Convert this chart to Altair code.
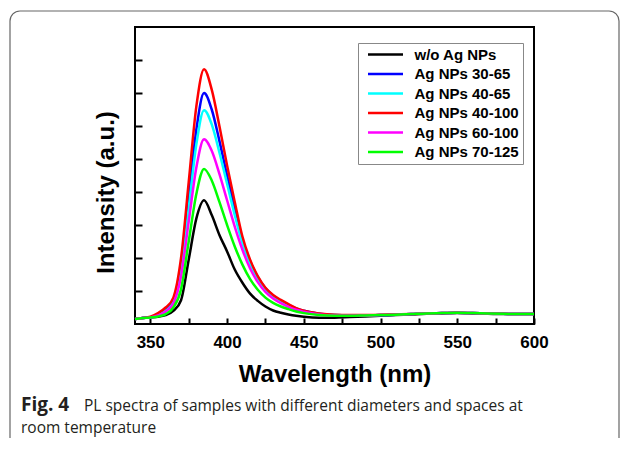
import altair as alt
import pandas as pd

# ---- data ----
wavelength = [340, 345, 350, 355, 360, 365, 370, 375, 380, 385, 390, 395, 400, 405,
              410, 415, 420, 425, 430, 435, 440, 445, 450, 460, 470, 480, 490, 500,
              510, 520, 530, 540, 550, 560, 570, 580, 590, 600]

series_names = ["w/o Ag NPs", "Ag NPs 30-65", "Ag NPs 40-65",
                "Ag NPs 40-100", "Ag NPs 60-100", "Ag NPs 70-125"]
series_colors = ["#000000", "#0000ff", "#00ffff", "#ff0000", "#ff00ff", "#00ff00"]

wo_ag = [0.15, 0.18, 0.20, 0.22, 0.27, 0.40, 0.72, 1.95, 3.20, 3.75, 3.30, 2.70, 2.20, 1.65,
         1.25, 0.92, 0.70, 0.53, 0.41, 0.34, 0.29, 0.25, 0.22, 0.19, 0.19, 0.21, 0.23, 0.25,
         0.27, 0.29, 0.31, 0.32, 0.33, 0.32, 0.31, 0.30, 0.30, 0.30]
ag_30_65 = [0.15, 0.18, 0.20, 0.28, 0.42, 0.70, 1.70, 3.80, 5.90, 7.00, 6.50, 5.55, 4.50, 3.50,
            2.55, 1.90, 1.42, 1.08, 0.86, 0.70, 0.58, 0.47, 0.40, 0.31, 0.27, 0.26, 0.26, 0.27,
            0.28, 0.30, 0.32, 0.33, 0.34, 0.33, 0.32, 0.31, 0.30, 0.30]
ag_40_65 = [0.15, 0.18, 0.20, 0.27, 0.40, 0.66, 1.60, 3.50, 5.45, 6.48, 6.05, 5.20, 4.25, 3.30,
            2.45, 1.82, 1.36, 1.04, 0.82, 0.67, 0.55, 0.45, 0.38, 0.30, 0.27, 0.26, 0.26, 0.27,
            0.28, 0.30, 0.32, 0.33, 0.34, 0.33, 0.32, 0.31, 0.30, 0.30]
ag_40_100 = [0.15, 0.18, 0.22, 0.33, 0.50, 0.80, 2.00, 4.30, 6.60, 7.72, 7.10, 6.00, 4.80, 3.70,
             2.65, 1.95, 1.45, 1.10, 0.88, 0.73, 0.60, 0.48, 0.40, 0.32, 0.28, 0.27, 0.27, 0.28,
             0.29, 0.30, 0.32, 0.33, 0.34, 0.33, 0.32, 0.31, 0.30, 0.30]
ag_60_100 = [0.15, 0.18, 0.20, 0.26, 0.38, 0.62, 1.45, 3.10, 4.75, 5.60, 5.25, 4.55, 3.75, 2.95,
             2.25, 1.68, 1.27, 0.97, 0.77, 0.63, 0.52, 0.43, 0.37, 0.29, 0.26, 0.26, 0.26, 0.27,
             0.28, 0.30, 0.32, 0.33, 0.34, 0.33, 0.32, 0.31, 0.30, 0.30]
ag_70_125 = [0.15, 0.18, 0.20, 0.23, 0.30, 0.50, 1.05, 2.50, 3.95, 4.70, 4.35, 3.70, 3.00, 2.35,
             1.80, 1.36, 1.04, 0.80, 0.64, 0.53, 0.45, 0.38, 0.33, 0.27, 0.25, 0.25, 0.26, 0.27,
             0.28, 0.30, 0.32, 0.33, 0.34, 0.33, 0.32, 0.31, 0.30, 0.30]

x_label_values = [350, 400, 450, 500, 550, 600]
x_tick_values = [350, 375, 400, 425, 450, 475, 500, 525, 550, 575, 600]
y_tick_values = [1, 2, 3, 4, 5, 6, 7, 8]

caption_bold = "Fig. 4"
caption_line1 = "PL spectra of samples with different diameters and spaces at"
caption_line2 = "room temperature"

# ---- build table ----
rows = []
for name, vals in zip(series_names, [wo_ag, ag_30_65, ag_40_65, ag_40_100, ag_60_100, ag_70_125]):
    for w, v in zip(wavelength, vals):
        rows.append({"wavelength": w, "intensity": v, "sample": name})
df = pd.DataFrame(rows)
one = pd.DataFrame({"k": [0]})

W, H = 399, 297
FONT = "Liberation Sans"

x_scale = alt.Scale(domain=[340, 600], nice=False, zero=False)
y_scale = alt.Scale(domain=[0, 9], nice=False)

frame = alt.Chart(one).mark_rect(
    filled=False, stroke="#666666", strokeWidth=1.2, cornerRadius=10
).encode(x=alt.value(-125), x2=alt.value(484), y=alt.value(-16), y2=alt.value(440))

lines = alt.Chart(df).mark_line(strokeWidth=2.5, interpolate="monotone").encode(
    x=alt.X("wavelength:Q", scale=x_scale,
            axis=alt.Axis(title="Wavelength (nm)", values=x_label_values, ticks=False,
                          domain=False, grid=False, labelFontSize=17, labelFontWeight="bold",
                          labelFont=FONT, labelColor="black", labelPadding=10, labelFlush=False,
                          format="d", titleFont=FONT, titleFontSize=24, titleFontWeight="bold",
                          titleColor="black", titleBaseline="alphabetic", titleY=57)),
    y=alt.Y("intensity:Q", scale=y_scale,
            axis=alt.Axis(title="Intensity (a.u.)", labels=False, ticks=False, domain=False,
                          grid=False, titleFont=FONT, titleFontSize=24, titleFontWeight="bold",
                          titleColor="black", titleAngle=270, titleBaseline="alphabetic",
                          titleAlign="center", titleX=-22, titleY=165)),
    color=alt.Color("sample:N", sort=series_names,
                    scale=alt.Scale(domain=series_names, range=series_colors),
                    legend=alt.Legend(title=None, orient="none", legendX=223, legendY=16,
                                      symbolType="M-1,0H6", symbolSize=100,
                                      symbolStrokeWidth=2.5, symbolOffset=3.5,
                                      labelOffset=34, labelFont=FONT, labelFontSize=15,
                                      labelFontWeight="bold", labelColor="black",
                                      rowPadding=3.5, padding=4, strokeColor="#888888",
                                      fillColor="white")),
)

ticks = alt.Chart(df).mark_point(opacity=0).encode(
    x=alt.X("wavelength:Q", scale=x_scale,
            axis=alt.Axis(orient="top", offset=-H, values=x_tick_values, labels=False,
                          title=None, domain=False, grid=False, tickSize=6, tickWidth=2,
                          tickColor="black")),
    y=alt.Y("intensity:Q", scale=y_scale,
            axis=alt.Axis(orient="right", offset=-W, values=y_tick_values, labels=False,
                          title=None, domain=False, grid=False, tickSize=7, tickWidth=2,
                          tickColor="black")),
)

cap_font = "Open Sans"
cap0 = alt.Chart(one).mark_text(text=caption_bold, font=cap_font, fontSize=19,
                                fontWeight="bold", align="left", baseline="alphabetic",
                                color="#231f20").encode(x=alt.value(-114), y=alt.value(384))
cap1 = alt.Chart(one).mark_text(text=caption_line1, font=cap_font, fontSize=15.5,
                                align="left", baseline="alphabetic",
                                color="#231f20").encode(x=alt.value(-51), y=alt.value(384))
cap2 = alt.Chart(one).mark_text(text=caption_line2, font=cap_font, fontSize=15.5,
                                align="left", baseline="alphabetic",
                                color="#231f20").encode(x=alt.value(-114), y=alt.value(406))

chart = alt.layer(frame, lines, ticks, cap0, cap1, cap2).resolve_axis(
    x="independent", y="independent"
).properties(
    width=W, height=H,
    autosize=alt.AutoSizeParams(type="none"),
    padding={"left": 127, "top": 19, "right": 87, "bottom": 114},
    background="white",
).configure_view(stroke="black", strokeWidth=2)

chart.save("out.html", embed_options={"renderer": "svg", "actions": False})
